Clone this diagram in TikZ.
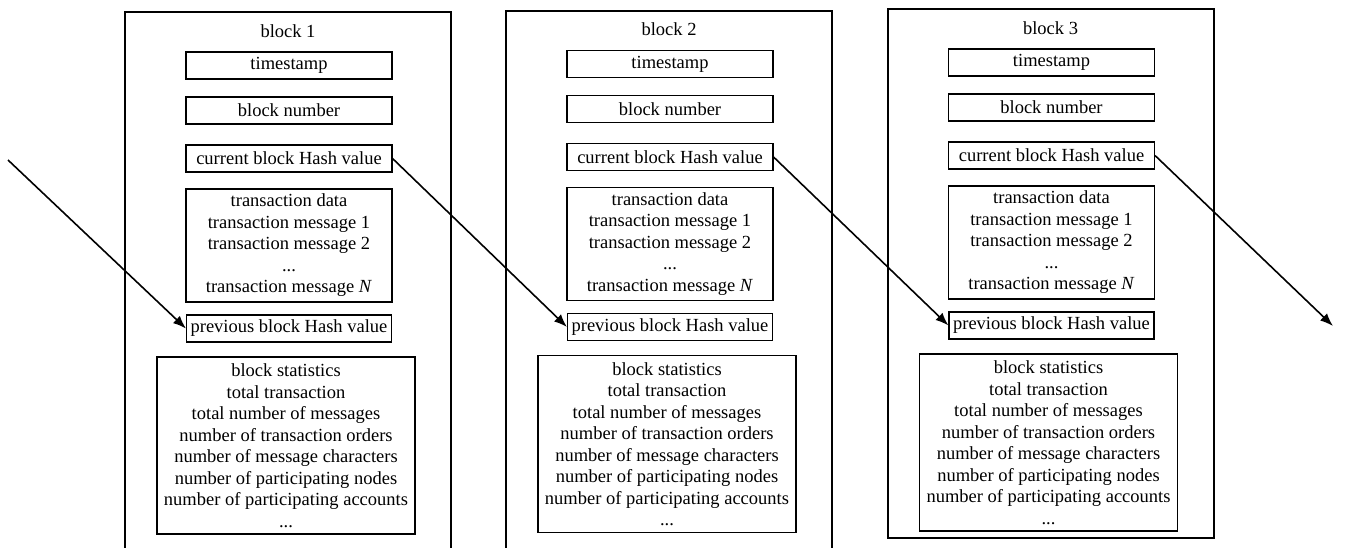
\documentclass[tikz,border=0pt]{standalone}
\usepackage{fontspec}
\setmainfont{Liberation Serif}
\usetikzlibrary{arrows.meta}
\begin{document}
\begin{tikzpicture}[x=1pt,y=-1pt,
  outerbox/.style={draw, line width=2pt, anchor=north, inner sep=0pt, minimum width=326pt},
  inbox/.style={draw, line width=1.1pt, inner sep=0pt, align=center, font=\fontsize{18.5}{21.5}\selectfont},
  lbl/.style={font=\fontsize{18.5}{21.5}\selectfont, inner sep=0pt},
  arr/.style={line width=1.6pt, -{Latex[length=13pt,width=10pt]}}]
\useasboundingbox (0,0) rectangle (1345,547);
\clip (0,0) rectangle (1345,547);
\foreach \i/\cx/\dy/\ot/\oh/\sx in {1/289/0/11/560/286, 2/670/-1.5/10/560/667, 3/1051.5/-3/8/529/1048.5}{
  \node[outerbox, minimum height=\oh pt] (blk\i) at ({\cx-1},\ot) {};
  \node[lbl] (lbl\i) at ({\cx-1},{31+\dy}) {block \i};
  \node[inbox, minimum width=206pt, minimum height=27pt] (ts\i) at (\cx,{65.5+\dy}) {timestamp};
  \node[inbox, minimum width=206pt, minimum height=27pt] (bn\i) at (\cx,{110.5+\dy}) {block number};
  \node[inbox, minimum width=206pt, minimum height=27pt] (h\i) at (\cx,{158.5+\dy}) {current block Hash value};
  \node[inbox, minimum width=206pt, minimum height=113pt] (td\i) at (\cx,{245.5+\dy}) {transaction data\\transaction message 1\\transaction message 2\\...\\transaction message \textit{N}};
  \node[inbox, minimum width=205pt, minimum height=27pt] (p\i) at (\cx,{328.5+\dy}) {previous block Hash value};
  \node[inbox, minimum width=258pt, minimum height=177pt] (st\i) at (\sx,{445.5+\dy}) {block statistics\\total transaction\\total number of messages\\number of transaction orders\\number of message characters\\number of participating nodes\\number of participating accounts\\...};
}
\coordinate (in) at (8,160);
\coordinate (out) at (1333,326);
\draw[arr] (in) -- (p1.west);
\draw[arr] (h1.east) -- (p2.west);
\draw[arr] (h2.east) -- (p3.west);
\draw[arr] (h3.east) -- (out);
\end{tikzpicture}
\end{document}
